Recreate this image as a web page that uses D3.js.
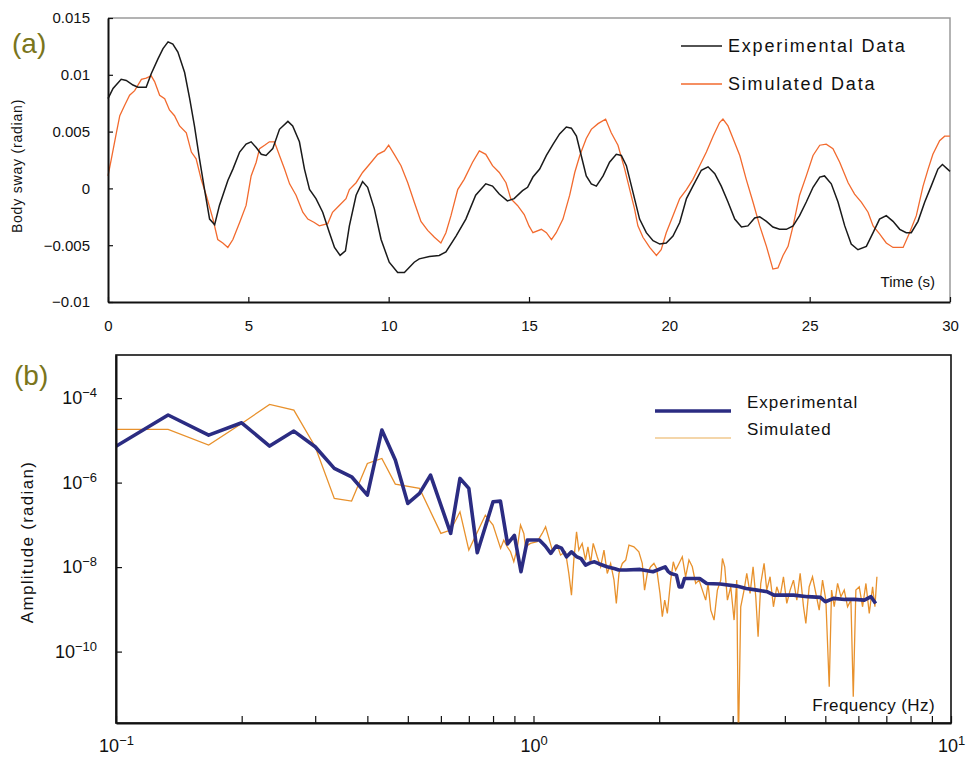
<html>
<head>
<meta charset="utf-8">
<title>Body sway and spectrum</title>
<style>
  body { margin: 0; background: #fff; }
  text { font-family: "Liberation Sans", Arial, sans-serif; fill: #111; }
</style>
<script src="https://d3js.org/d3.v7.min.js" charset="utf-8"></script>
</head>
<body>
<script type="text/javascript">

/************** (a) body sway, [time s, sway rad] *****************/
var expSway = [[0,0.0079],[0.18,0.0088],[0.47,0.0096],[0.65,0.0095],[0.89,0.0091],[1.07,0.0089],[1.36,0.0089],[1.54,0.0101],
  [1.78,0.0114],[1.96,0.0123],[2.14,0.0129],[2.31,0.0127],[2.49,0.012],[2.73,0.0102],[2.91,0.0079],[3.08,0.0055],[3.26,0.0026],
  [3.44,-0.0001],[3.62,-0.0027],[3.8,-0.0032],[3.97,-0.0015],[4.27,0.0007],[4.45,0.0017],[4.69,0.0032],[4.92,0.0039],[5.1,0.0041],
  [5.28,0.0036],[5.46,0.003],[5.63,0.0029],[5.87,0.0035],[6.11,0.0052],[6.41,0.0059],[6.58,0.0055],[6.82,0.0041],[7.0,0.0017],
  [7.18,-0.0001],[7.41,-0.0009],[7.65,-0.0021],[7.89,-0.0039],[8.07,-0.0052],[8.27,-0.0059],[8.46,-0.0055],[8.6,-0.0033],
  [8.84,-0.0006],[9.07,0.0006],[9.25,0.0001],[9.49,-0.0018],[9.73,-0.0045],[10.02,-0.0065],[10.32,-0.0074],[10.56,-0.0074],
  [10.91,-0.0065],[11.09,-0.0062],[11.45,-0.006],[11.8,-0.0059],[12.04,-0.0056],[12.4,-0.0042],[12.75,-0.0027],[13.1,-0.0006],
  [13.46,0.0004],[13.7,0.0002],[13.94,-0.0005],[14.23,-0.0011],[14.47,-0.0009],[14.77,-0.0002],[14.95,0.0001],[15.14,0.001],
  [15.38,0.0017],[15.62,0.0029],[15.86,0.0039],[16.09,0.0048],[16.33,0.0054],[16.51,0.0053],[16.69,0.0046],[16.86,0.0029],
  [17.04,0.0011],[17.22,0.0004],[17.4,0.0002],[17.64,0.0011],[17.87,0.0023],[18.11,0.003],[18.29,0.0029],[18.47,0.002],
  [18.71,-0.0004],[18.94,-0.0027],[19.18,-0.0039],[19.42,-0.0046],[19.66,-0.0049],[19.89,-0.0048],[20.13,-0.0042],[20.37,-0.003],
  [20.61,-0.0009],[20.84,0.0002],[21.14,0.0016],[21.38,0.0019],[21.62,0.0013],[21.85,0.0002],[22.09,-0.0012],[22.33,-0.0027],
  [22.57,-0.0034],[22.8,-0.0033],[23.04,-0.0026],[23.22,-0.0025],[23.46,-0.0029],[23.69,-0.0034],[23.93,-0.0036],[24.17,-0.0036],
  [24.41,-0.0033],[24.64,-0.0024],[24.88,-0.0012],[25.12,0.0001],[25.36,0.001],[25.53,0.0011],[25.77,0.0004],[26.01,-0.0012],
  [26.25,-0.0033],[26.48,-0.0049],[26.72,-0.0054],[27.02,-0.0051],[27.26,-0.0039],[27.49,-0.0027],[27.73,-0.0024],[27.97,-0.0029],
  [28.21,-0.0036],[28.44,-0.0039],[28.62,-0.0039],[28.86,-0.0029],[29.1,-0.0012],[29.33,0.0002],[29.57,0.0017],[29.73,0.0021],[30,0.0015]];

var simSway = [[0,0.0011],[0.12,0.0026],[0.3,0.0049],[0.42,0.0064],[0.59,0.0073],[0.77,0.0082],[0.95,0.0086],[1.19,0.0096],
  [1.36,0.0097],[1.54,0.0099],[1.66,0.0094],[1.84,0.0082],[2.02,0.0079],[2.19,0.0069],[2.37,0.0064],[2.55,0.0055],[2.79,0.0049],
  [2.97,0.0032],[3.14,0.0026],[3.32,0.0008],[3.5,-0.0006],[3.74,-0.0027],[3.91,-0.0045],[4.09,-0.0048],[4.27,-0.0052],[4.45,-0.0045],
  [4.69,-0.003],[4.92,-0.0015],[5.1,0.0011],[5.28,0.0023],[5.4,0.0035],[5.58,0.0038],[5.75,0.0041],[5.93,0.0041],[6.11,0.0029],
  [6.29,0.0017],[6.47,0.0004],[6.7,-0.0006],[6.94,-0.0021],[7.12,-0.0027],[7.35,-0.003],[7.53,-0.0033],[7.83,-0.0031],[8.0,-0.0021],
  [8.24,-0.0015],[8.48,-0.0009],[8.6,-0.0001],[8.84,0.0005],[9.07,0.0014],[9.31,0.0021],[9.61,0.003],[9.85,0.0033],[10.0,0.0038],
  [10.2,0.003],[10.44,0.002],[10.68,0.0005],[10.91,-0.0012],[11.15,-0.0029],[11.39,-0.0037],[11.63,-0.0043],[11.86,-0.0048],
  [12.04,-0.0039],[12.22,-0.0024],[12.46,-0.0001],[12.69,0.0008],[12.99,0.0023],[13.23,0.0033],[13.46,0.003],[13.7,0.002],
  [13.94,0.0014],[14.18,0.0005],[14.35,-0.0009],[14.59,-0.0015],[14.83,-0.0023],[15.0,-0.0033],[15.14,-0.0039],[15.44,-0.0036],
  [15.62,-0.0039],[15.8,-0.0045],[15.97,-0.0039],[16.21,-0.0027],[16.45,-0.0006],[16.63,0.0014],[16.81,0.0029],[17.04,0.0044],
  [17.22,0.0052],[17.46,0.0057],[17.73,0.0061],[17.93,0.0049],[18.17,0.0038],[18.41,0.0017],[18.59,-0.0001],[18.76,-0.0018],
  [18.88,-0.0033],[19.06,-0.0043],[19.3,-0.0052],[19.54,-0.0059],[19.71,-0.0054],[19.89,-0.0039],[20.13,-0.0024],[20.37,-0.0009],
  [20.61,-0.0001],[20.84,0.0008],[21.08,0.002],[21.32,0.0032],[21.56,0.0046],[21.79,0.0058],[21.91,0.0061],[22.09,0.0055],
  [22.27,0.0044],[22.51,0.0029],[22.74,0.0008],[22.98,-0.0012],[23.22,-0.0033],[23.46,-0.0051],[23.69,-0.0071],[23.87,-0.007],
  [24.05,-0.0059],[24.23,-0.0051],[24.41,-0.0033],[24.64,-0.0006],[24.88,0.0011],[25.12,0.0029],[25.36,0.0038],[25.59,0.0039],
  [25.83,0.0035],[26.07,0.0023],[26.37,0.0005],[26.6,-0.0005],[26.84,-0.0012],[27.08,-0.0021],[27.26,-0.0033],[27.49,-0.004],
  [27.73,-0.0048],[27.97,-0.0052],[28.33,-0.0052],[28.56,-0.0039],[28.8,-0.0024],[29.04,0.0002],[29.22,0.0017],[29.39,0.003],
  [29.63,0.0042],[29.81,0.0046],[30,0.0046]];

var timeTicks = [0, 5, 10, 15, 20, 25, 30];
var swayTicks = [-0.01, -0.005, 0, 0.005, 0.01, 0.015];
var swayTickLabels = ["\u22120.01", "\u22120.005", "0", "0.005", "0.01", "0.015"];

/************** (b) amplitude spectrum, [frequency Hz, log10 amplitude] *****************/
var expSpectrum = [[0.1,-5.14],[0.1333,-4.40],[0.1667,-4.876],[0.2,-4.584],[0.2333,-5.136],[0.2667,-4.781],[0.3,-5.152],
  [0.3333,-5.664],[0.3667,-5.862],[0.4,-6.296],[0.4333,-4.757],[0.4667,-5.467],[0.5,-6.493],[0.5333,-6.256],[0.5667,-5.822],
  [0.6333,-7.202],[0.6667,-5.901],[0.7,-6.138],[0.7333,-7.66],[0.8,-6.454],[0.8333,-6.438],[0.8667,-7.45],[0.9,-7.25],
  [0.9333,-8.11],[0.9667,-7.36],[1.0,-7.36],[1.033,-7.36],[1.067,-7.5],[1.1,-7.676],[1.133,-7.5],[1.167,-7.55],[1.2,-7.757],
  [1.233,-7.64],[1.267,-7.75],[1.3,-7.8],[1.333,-7.953],[1.367,-7.9],[1.4,-7.874],[1.433,-7.92],[1.5,-7.993],[1.567,-8.04],
  [1.6,-8.07],[1.667,-8.07],[1.8,-8.055],[1.933,-8.11],[2.067,-7.993],[2.1,-8.1],[2.133,-8.15],[2.2,-8.19],[2.233,-8.47],
  [2.267,-8.47],[2.3,-8.27],[2.4,-8.27],[2.5,-8.27],[2.6,-8.39],[2.8,-8.4],[3.067,-8.45],[3.233,-8.505],[3.433,-8.545],
  [3.633,-8.584],[3.767,-8.663],[4.0,-8.663],[4.2,-8.663],[4.533,-8.70],[4.867,-8.717],[5.0,-8.821],[5.233,-8.741],
  [5.567,-8.765],[5.867,-8.765],[6.2,-8.781],[6.433,-8.70],[6.6,-8.86]];

var simSpectrum = [[0.1,-4.741],[0.1333,-4.741],[0.1667,-5.112],[0.2,-4.6],[0.2333,-4.15],[0.2667,-4.284],[0.3,-5.152],
  [0.3333,-6.374],[0.3667,-6.438],[0.4,-5.546],[0.4333,-5.428],[0.4667,-6.036],[0.5333,-6.138],[0.6,-7.202],[0.6333,-7.124],
  [0.6667,-6.691],[0.7,-7.597],[0.7667,-6.77],[0.8,-7.006],[0.834,-7.558],[0.849,-7.361],[0.865,-7.519],[0.881,-7.637],
  [0.897,-7.874],[0.914,-7.558],[0.931,-7.006],[0.948,-7.203],[0.957,-7.519],[0.983,-7.44],[1.020,-7.4],[1.049,-7.203],
  [1.069,-7.045],[1.089,-7.321],[1.109,-7.598],[1.140,-7.479],[1.161,-7.716],[1.193,-7.637],[1.215,-8.15],[1.233,-8.663],
  [1.249,-7.834],[1.268,-7.164],[1.284,-7.598],[1.308,-7.44],[1.332,-7.834],[1.350,-7.519],[1.370,-7.913],[1.390,-7.44],
  [1.421,-7.755],[1.448,-7.992],[1.475,-7.598],[1.502,-8.15],[1.530,-7.913],[1.559,-8.308],[1.579,-8.86],[1.602,-8.15],
  [1.632,-7.913],[1.663,-7.834],[1.693,-7.479],[1.740,-7.519],[1.788,-7.637],[1.822,-7.913],[1.845,-8.544],[1.873,-8.15],
  [1.908,-7.992],[1.943,-7.913],[1.972,-8.031],[2.009,-8.623],[2.035,-9.175],[2.062,-8.781],[2.092,-9.097],[2.131,-8.308],
  [2.162,-7.874],[2.190,-8.071],[2.231,-7.913],[2.272,-7.755],[2.314,-8.229],[2.357,-7.834],[2.401,-7.992],[2.446,-8.387],
  [2.492,-8.308],[2.538,-8.544],[2.585,-8.781],[2.619,-8.387],[2.658,-9.018],[2.707,-9.254],[2.757,-8.544],[2.809,-8.308],
  [2.835,-7.795],[2.871,-7.992],[2.914,-8.781],[2.968,-8.465],[3.023,-9.254],[3.068,-8.308],[3.096,-12.2],[3.136,-8.939],
  [3.194,-8.544],[3.242,-8.15],[3.302,-8.623],[3.357,-7.992],[3.407,-8.702],[3.451,-9.649],[3.502,-8.387],[3.567,-7.913],
  [3.620,-8.544],[3.687,-8.229],[3.756,-8.939],[3.826,-8.465],[3.896,-8.702],[3.969,-8.229],[4.043,-8.86],[4.118,-8.544],
  [4.195,-8.308],[4.273,-8.781],[4.352,-8.15],[4.433,-8.939],[4.491,-9.333],[4.574,-8.465],[4.659,-8.229],[4.746,-8.623],
  [4.834,-9.018],[4.924,-8.308],[5.015,-8.781],[5.109,-10.832],[5.175,-8.544],[5.252,-8.939],[5.350,-8.387],[5.449,-8.702],
  [5.550,-8.544],[5.653,-8.939],[5.758,-8.781],[5.833,-11.069],[5.918,-8.544],[6.029,-8.465],[6.141,-8.939],[6.255,-8.387],
  [6.371,-9.097],[6.490,-8.465],[6.573,-8.939],[6.646,-8.229]];

var ampTickExponents = [-10, -8, -6, -4];
var freqTicks = [0.1,0.2,0.3,0.4,0.5,0.6,0.7,0.8,0.9,1,2,3,4,5,6,7,8,9,10];

/************** layout *****************/
var width = 966, height = 758;
var svg = d3.select("body").append("svg").attr("width", width).attr("height", height);

function supLabel(sel, exp) {
  sel.text("10");
  sel.append("tspan").attr("dy", "-0.55em").attr("font-size", "0.72em")
     .text(exp < 0 ? "\u2212" + (-exp) : exp);
}

/************** panel (a) *****************/
var pa = {left: 108, right: 950, top: 18, bottom: 302};
var xA = d3.scaleLinear().domain([0, 30]).range([pa.left, pa.right]);
var yA = d3.scaleLinear().domain([-0.01, 0.015]).range([pa.bottom, pa.top]);

svg.append("path")
   .attr("d", "M" + pa.left + "," + pa.top + "H" + pa.right + "V" + pa.bottom)
   .attr("fill", "none").attr("stroke", "#9a9a9a").attr("stroke-width", 1.5);

var lineA = d3.line().x(function(d){ return xA(d[0]); }).y(function(d){ return yA(d[1]); });
svg.append("path").datum(simSway).attr("d", lineA)
   .attr("fill", "none").attr("stroke", "#f26a2e").attr("stroke-width", 1.3);
svg.append("path").datum(expSway).attr("d", lineA)
   .attr("fill", "none").attr("stroke", "#1a1a1a").attr("stroke-width", 1.5);

var gxA = svg.append("g").attr("transform", "translate(0," + pa.bottom + ")")
   .call(d3.axisBottom(xA).tickValues(timeTicks).tickSizeInner(-5).tickSizeOuter(0).tickPadding(18));
var gyA = svg.append("g").attr("transform", "translate(" + pa.left + ",0)")
   .call(d3.axisLeft(yA).tickValues(swayTicks).tickSizeInner(-5).tickSizeOuter(0).tickPadding(18)
         .tickFormat(function(d, i){ return swayTickLabels[i]; }));
[gxA, gyA].forEach(function(g){
  g.select(".domain").attr("stroke", "#111").attr("stroke-width", 2);
  g.selectAll(".tick line").attr("stroke", "#111").attr("stroke-width", 1.2);
  g.selectAll(".tick text").attr("font-size", 15).attr("fill", "#222").attr("font-family", "Liberation Sans, Arial, sans-serif");
});

svg.append("text").attr("transform", "translate(22,166) rotate(-90)")
   .attr("text-anchor", "middle").attr("font-size", 14).attr("letter-spacing", 0.8)
   .text("Body sway (radian)");
svg.append("text").attr("x", 935).attr("y", 287).attr("text-anchor", "end")
   .attr("font-size", 15).text("Time (s)");
svg.append("text").attr("x", 12).attr("y", 53).attr("font-size", 28)
   .style("fill", "#7a751c").text("(a)");

var legendA = [{name: "Experimental Data", color: "#1a1a1a", y: 46},
               {name: "Simulated Data", color: "#f26a2e", y: 84}];
var la = svg.append("g").selectAll("g").data(legendA).enter().append("g");
la.append("line").attr("x1", 681).attr("x2", 722)
  .attr("y1", function(d){ return d.y; }).attr("y2", function(d){ return d.y; })
  .attr("stroke", function(d){ return d.color; }).attr("stroke-width", 1.5);
la.append("text").attr("x", 728).attr("y", function(d){ return d.y + 6; })
  .attr("font-size", 18).attr("letter-spacing", 1.8).text(function(d){ return d.name; });

/************** panel (b) *****************/
var pb = {left: 116, right: 951, top: 355, bottom: 723};
var xB = d3.scaleLog().domain([0.1, 10]).range([pb.left, pb.right]);
var yB = d3.scaleLog().domain([Math.pow(10, -11.69), Math.pow(10, -2.98)]).range([pb.bottom, pb.top]);

svg.append("rect").attr("x", pb.left).attr("y", pb.top)
   .attr("width", pb.right - pb.left).attr("height", pb.bottom - pb.top)
   .attr("fill", "none").attr("stroke", "#111").attr("stroke-width", 1.6);

svg.append("clipPath").attr("id", "clipB").append("rect")
   .attr("x", pb.left).attr("y", pb.top).attr("width", pb.right - pb.left).attr("height", pb.bottom - pb.top);

var lineB = d3.line().x(function(d){ return xB(d[0]); }).y(function(d){ return yB(Math.pow(10, d[1])); });
var plotB = svg.append("g").attr("clip-path", "url(#clipB)");
plotB.append("path").datum(simSpectrum).attr("d", lineB)
   .attr("fill", "none").attr("stroke", "#e8912c").attr("stroke-width", 1.3);
plotB.append("path").datum(expSpectrum).attr("d", lineB)
   .attr("fill", "none").attr("stroke", "#2b2c82").attr("stroke-width", 3.6).attr("stroke-linejoin", "round");

var gxB = svg.append("g").attr("transform", "translate(0," + pb.bottom + ")")
   .call(d3.axisBottom(xB).tickValues(freqTicks).tickSizeInner(-7).tickSizeOuter(0).tickPadding(16)
         .tickFormat(function(){ return ""; }));
gxB.selectAll(".tick text").each(function(d){
  var e = Math.round(Math.log10(d));
  if (Math.abs(Math.log10(d) - e) < 1e-9) supLabel(d3.select(this), e);
});
var gyB = svg.append("g").attr("transform", "translate(" + pb.left + ",0)")
   .call(d3.axisLeft(yB).tickValues(ampTickExponents.map(function(e){ return Math.pow(10, e); }))
         .tickSizeInner(-6).tickSizeOuter(0).tickPadding(19).tickFormat(function(){ return ""; }));
gyB.selectAll(".tick text").each(function(d, i){ supLabel(d3.select(this), ampTickExponents[i]); });
[gxB, gyB].forEach(function(g){
  g.select(".domain").attr("stroke", "#111").attr("stroke-width", 2);
  g.selectAll(".tick line").attr("stroke", "#111").attr("stroke-width", 1.2);
  g.selectAll(".tick text").attr("font-size", 18).attr("fill", "#222").attr("font-family", "Liberation Sans, Arial, sans-serif");
});

svg.append("text").attr("transform", "translate(33,542) rotate(-90)")
   .attr("text-anchor", "middle").attr("font-size", 17).attr("letter-spacing", 1.3)
   .text("Amplitude (radian)");
svg.append("text").attr("x", 935).attr("y", 711).attr("text-anchor", "end")
   .attr("font-size", 17).attr("letter-spacing", 0.4).text("Frequency (Hz)");
svg.append("text").attr("x", 14).attr("y", 385).attr("font-size", 28)
   .style("fill", "#7a751c").text("(b)");

var legendB = [{name: "Experimental", color: "#2b2c82", w: 3.6, y: 411},
               {name: "Simulated", color: "#f1c88e", w: 1.5, y: 438}];
var lb = svg.append("g").selectAll("g").data(legendB).enter().append("g");
lb.append("line").attr("x1", 655).attr("x2", 731)
  .attr("y1", function(d){ return d.y; }).attr("y2", function(d){ return d.y; })
  .attr("stroke", function(d){ return d.color; }).attr("stroke-width", function(d){ return d.w; });
lb.append("text").attr("x", 747).attr("y", function(d){ return d.y - 3; })
  .attr("font-size", 17).attr("letter-spacing", 1).text(function(d){ return d.name; });

</script>
</body>
</html>
